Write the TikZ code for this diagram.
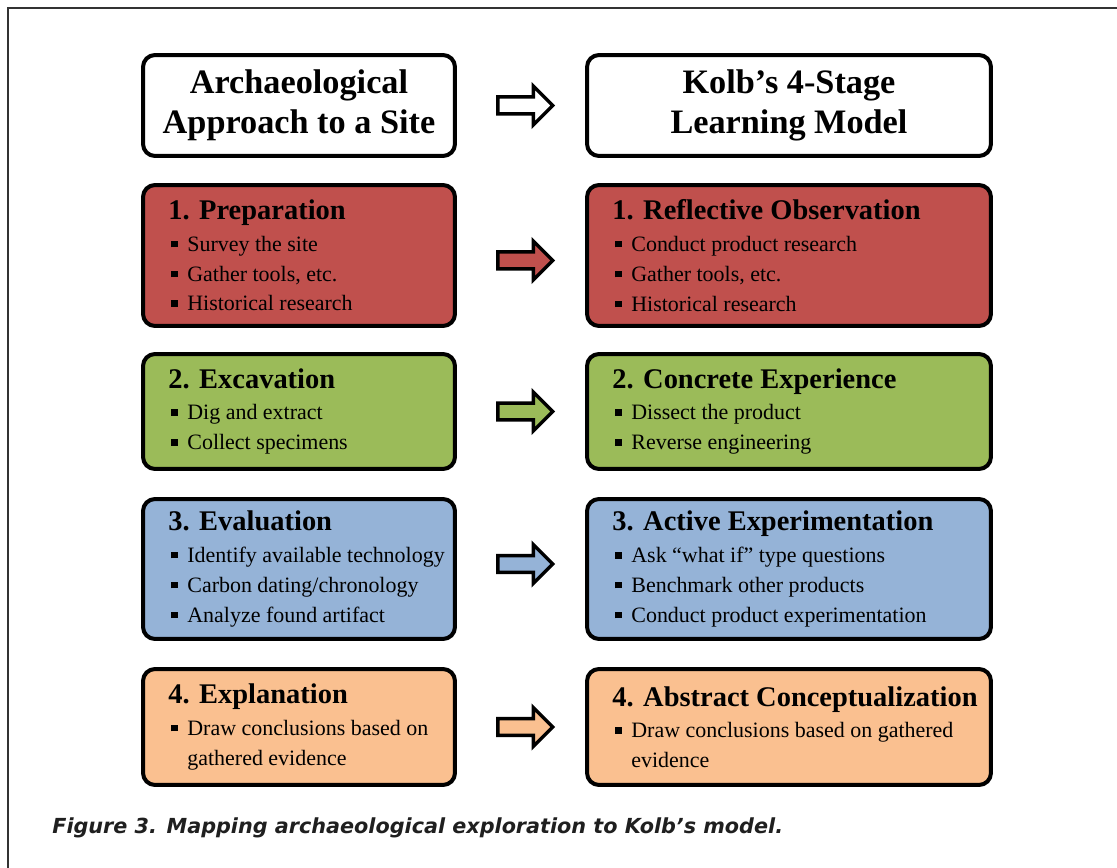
\documentclass[tikz,border=0pt]{standalone}
\usepackage{fontspec}
\setmainfont{Liberation Serif}
\newfontfamily\capfont{DejaVu Sans}
\usetikzlibrary{shapes.arrows, calc}

\definecolor{prepred}{HTML}{C0504D}
\definecolor{excgreen}{HTML}{9BBB59}
\definecolor{evalblue}{HTML}{95B3D7}
\definecolor{explorange}{HTML}{FAC090}
\definecolor{framegray}{HTML}{333333}

\newcommand{\sqbul}{\hspace*{0.06cm}\makebox[0.32cm][l]{\rule[0.18em]{0.13cm}{0.13cm}}}
\newcommand{\contln}{\hspace*{0.38cm}}
\newcommand{\stagetitle}[1]{{\fontsize{16.2}{18}\selectfont\bfseries #1}\\[1pt]}

\begin{document}
\begin{tikzpicture}[
		x=0.02cm, y=-0.02cm,
		every node/.style={inner sep=0pt},
		box/.style={draw, line width=0.08cm, rounded corners=0.24cm},
		leftbox/.style={box, minimum width=6.24cm},
		rightbox/.style={box, minimum width=8.08cm},
		boxtext/.style={anchor=west, align=left, xshift=0.54cm,
			font=\fontsize{12.5}{17}\selectfont},
		headtext/.style={align=center, font=\fontsize{19.5}{22.7}\selectfont\bfseries},
		blockarrow/.style={single arrow, draw, line width=0.07cm,
			inner xsep=0pt, inner ysep=0.135cm,
			minimum height=1.1cm, minimum width=0.72cm,
			single arrow head extend=0.22cm}
	]
  \useasboundingbox (0,0) rectangle (1117,868);
  \draw [framegray, line width=0.04cm] (8,868) -- (8,8) -- (1117,8);

  \node (headL) [leftbox, minimum height=2.02cm, fill=white] at (299,105.5) {};
  \node (headR) [rightbox, minimum height=2.02cm, fill=white] at (789,105.5) {};
  \node (headLt) [headtext] at (headL) {Archaeological\\Approach to a Site};
  \node (headRt) [headtext] at (headR) {Kolb’s 4-Stage\\Learning Model};

  \node (prepL) [leftbox, minimum height=2.82cm, fill=prepred] at (299,255.5) {};
  \node (prepR) [rightbox, minimum height=2.82cm, fill=prepred] at (789,255.5) {};
  \node (prepLt) [boxtext] at (prepL.west) {\stagetitle{1. Preparation}
    \sqbul Survey the site\\ \sqbul Gather tools, etc.\\ \sqbul Historical research};
  \node (prepRt) [boxtext] at (prepR.west) {\stagetitle{1. Reflective Observation}
    \sqbul Conduct product research\\ \sqbul Gather tools, etc.\\ \sqbul Historical research};

  \node (excL) [leftbox, minimum height=2.3cm, fill=excgreen] at (299,411.5) {};
  \node (excR) [rightbox, minimum height=2.3cm, fill=excgreen] at (789,411.5) {};
  \node (excLt) [boxtext] at (excL.west) {\stagetitle{2. Excavation}
    \sqbul Dig and extract\\ \sqbul Collect specimens};
  \node (excRt) [boxtext] at (excR.west) {\stagetitle{2. Concrete Experience}
    \sqbul Dissect the product\\ \sqbul Reverse engineering};

  \node (evalL) [leftbox, minimum height=2.8cm, fill=evalblue] at (299,569) {};
  \node (evalR) [rightbox, minimum height=2.8cm, fill=evalblue] at (789,569) {};
  \node (evalLt) [boxtext] at (evalL.west) {\stagetitle{3. Evaluation}
    \sqbul Identify available technology\\ \sqbul Carbon dating/chronology\\ \sqbul Analyze found artifact};
  \node (evalRt) [boxtext] at (evalR.west) {\stagetitle{3. Active Experimentation}
    \sqbul Ask “what if” type questions\\ \sqbul Benchmark other products\\ \sqbul Conduct product experimentation};

  \node (explL) [leftbox, minimum height=2.32cm, fill=explorange] at (299,727) {};
  \node (explR) [rightbox, minimum height=2.32cm, fill=explorange] at (789,727) {};
  \node (explLt) [boxtext] at (explL.west) {\stagetitle{4. Explanation}
    \sqbul Draw conclusions based on\\ \contln gathered evidence};
  \node (explRt) [boxtext] at (explR.west) {\stagetitle{4. Abstract Conceptualization}
    \sqbul Draw conclusions based on gathered\\ \contln evidence};

  \node (arrHead) [blockarrow, fill=white] at ($(headL.east)!0.5!(headR.west)$) {};
  \node (arrPrep) [blockarrow, fill=prepred] at ($(prepL.east)!0.5!(prepR.west)+(0,5)$) {};
  \node (arrExc) [blockarrow, fill=excgreen] at ($(excL.east)!0.5!(excR.west)$) {};
  \node (arrEval) [blockarrow, fill=evalblue] at ($(evalL.east)!0.5!(evalR.west)+(0,-5)$) {};
  \node (arrExpl) [blockarrow, fill=explorange] at ($(explL.east)!0.5!(explR.west)$) {};

  \node (caption) [anchor=west, font=\capfont\bfseries\itshape\fontsize{11.8}{14}\selectfont,
    text=black!88] at (52,828) {Figure 3. Mapping archaeological exploration to Kolb’s model.};
\end{tikzpicture}
\end{document}
